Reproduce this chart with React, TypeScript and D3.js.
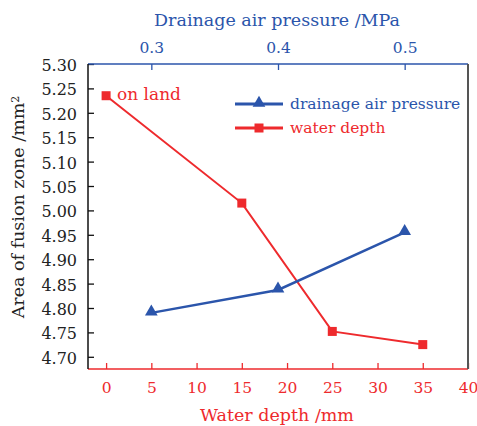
import React, { useEffect, useRef } from 'react'
import * as d3 from 'd3'

// water depth series (bottom axis, red)
const depthX = [0, 15, 25, 35]
const depthY = [5.235, 5.015, 4.752, 4.725]

// drainage air pressure series (top axis, blue)
const pressureX = [0.3, 0.4, 0.5]
const pressureY = [4.79, 4.837, 4.955]

const yTicks = [4.7, 4.75, 4.8, 4.85, 4.9, 4.95, 5.0, 5.05, 5.1, 5.15, 5.2, 5.25, 5.3]
const depthTicks = [0, 5, 10, 15, 20, 25, 30, 35, 40]
const pressureTicks = [0.3, 0.4, 0.5]

const BLUE = '#2b55ab'
const RED = '#ee2a2d'
const FONT = '"DejaVu Serif", serif'

export default function App() {
  const ref = useRef<SVGSVGElement>(null)

  useEffect(() => {
    const W = 477, H = 426
    const margin = { top: 64, right: 9, bottom: 57, left: 88 }
    const left = margin.left, right = W - margin.right
    const top = margin.top, bottom = H - margin.bottom

    const svg = d3.select(ref.current)
    svg.selectAll('*').remove()

    const x = d3.scaleLinear().domain([-2, 40]).range([left, right])
    const x2 = d3.scaleLinear().domain([0.25, 0.55]).range([left, right])
    const y = d3.scaleLinear().domain([4.675, 5.3]).range([bottom, top])

    // left axis
    const gl = svg.append('g')
      .attr('transform', 'translate(' + left + ',0)')
      .call(d3.axisLeft(y).tickValues(yTicks).tickFormat(d3.format('.2f'))
        .tickSizeInner(-6).tickSizeOuter(0).tickPadding(11))
    gl.select('.domain').remove()
    gl.selectAll('line').attr('stroke', '#111').attr('stroke-width', 1.3)
    gl.selectAll('text').attr('fill', '#222').style('font-size', '16px')
      .style('font-family', FONT).attr('dy', '0.4em')

    // bottom axis
    const gb = svg.append('g')
      .attr('transform', 'translate(0,' + bottom + ')')
      .call(d3.axisBottom(x).tickValues(depthTicks).tickSizeInner(-6).tickSizeOuter(0).tickPadding(13))
    gb.select('.domain').remove()
    gb.selectAll('line').attr('stroke', RED).attr('stroke-width', 1.3)
    gb.selectAll('text').attr('fill', RED).style('font-size', '15.5px').style('font-family', FONT)

    // top axis
    const gt = svg.append('g')
      .attr('transform', 'translate(0,' + top + ')')
      .call(d3.axisTop(x2).tickValues(pressureTicks).tickFormat(d3.format('.1f'))
        .tickSizeInner(-6).tickSizeOuter(0).tickPadding(11))
    gt.select('.domain').remove()
    gt.selectAll('line').attr('stroke', BLUE).attr('stroke-width', 1.3)
    gt.selectAll('text').attr('fill', BLUE).style('font-size', '15.5px').style('font-family', FONT)

    // frame
    svg.append('line').attr('x1', left).attr('x2', right).attr('y1', top).attr('y2', top)
      .attr('stroke', BLUE).attr('stroke-width', 1.5)
    svg.append('line').attr('x1', left).attr('x2', right).attr('y1', bottom).attr('y2', bottom)
      .attr('stroke', RED).attr('stroke-width', 1.5)
    svg.append('line').attr('x1', left).attr('x2', left).attr('y1', top).attr('y2', bottom)
      .attr('stroke', '#111').attr('stroke-width', 1.5)
    svg.append('line').attr('x1', right).attr('x2', right).attr('y1', top).attr('y2', bottom)
      .attr('stroke', '#555').attr('stroke-width', 2)

    // axis titles
    svg.append('text').attr('x', 277).attr('y', 26).attr('text-anchor', 'middle')
      .attr('fill', BLUE).style('font-size', '17.5px').style('font-family', FONT)
      .text('Drainage air pressure /MPa')
    svg.append('text').attr('x', 277).attr('y', 421).attr('text-anchor', 'middle')
      .attr('fill', RED).style('font-size', '17.5px').style('font-family', FONT)
      .text('Water depth /mm')
    const yt = svg.append('text').attr('transform', 'translate(24,207) rotate(-90)')
      .attr('text-anchor', 'middle').attr('fill', '#222')
      .style('font-size', '17.5px').style('font-family', FONT)
    yt.append('tspan').text('Area of fusion zone /mm')
    yt.append('tspan').attr('dy', '-0.45em').style('font-size', '11px').text('2')

    // water depth line
    const depthPts = depthX.map((d, i) => [x(d), y(depthY[i])] as [number, number])
    svg.append('path').attr('d', d3.line()(depthPts)).attr('fill', 'none')
      .attr('stroke', RED).attr('stroke-width', 2)
    svg.selectAll('.sq').data(depthPts).enter().append('rect')
      .attr('x', d => d[0] - 4.5).attr('y', d => d[1] - 4.5)
      .attr('width', 9).attr('height', 9).attr('fill', RED)

    // pressure line
    const presPts = pressureX.map((d, i) => [x2(d), y(pressureY[i])] as [number, number])
    svg.append('path').attr('d', d3.line()(presPts)).attr('fill', 'none')
      .attr('stroke', BLUE).attr('stroke-width', 2.5)
    const tri = d3.symbol().type(d3.symbolTriangle).size(70)
    svg.selectAll('.tri').data(presPts).enter().append('path')
      .attr('d', tri).attr('transform', d => 'translate(' + d[0] + ',' + (d[1] - 1) + ')')
      .attr('fill', BLUE)

    // on land label
    svg.append('text').attr('x', 117).attr('y', 100).attr('fill', RED)
      .style('font-size', '17px').style('font-family', FONT).text('on land')

    // legend
    svg.append('line').attr('x1', 235).attr('x2', 283).attr('y1', 104).attr('y2', 104)
      .attr('stroke', BLUE).attr('stroke-width', 3)
    svg.append('path').attr('d', tri).attr('transform', 'translate(259,103)').attr('fill', BLUE)
    svg.append('text').attr('x', 290).attr('y', 109).attr('fill', BLUE)
      .style('font-size', '15.5px').style('font-family', FONT).text('drainage air pressure')
    svg.append('line').attr('x1', 235).attr('x2', 283).attr('y1', 128).attr('y2', 128)
      .attr('stroke', RED).attr('stroke-width', 3)
    svg.append('rect').attr('x', 254.5).attr('y', 123.5).attr('width', 9).attr('height', 9).attr('fill', RED)
    svg.append('text').attr('x', 290).attr('y', 133).attr('fill', RED)
      .style('font-size', '15.5px').style('font-family', FONT).text('water depth')
  }, [])

  return (
    <svg ref={ref} width={477} height={426}
      style={{ position: 'absolute', left: 0, top: 0, background: '#fff' }} />
  )
}
